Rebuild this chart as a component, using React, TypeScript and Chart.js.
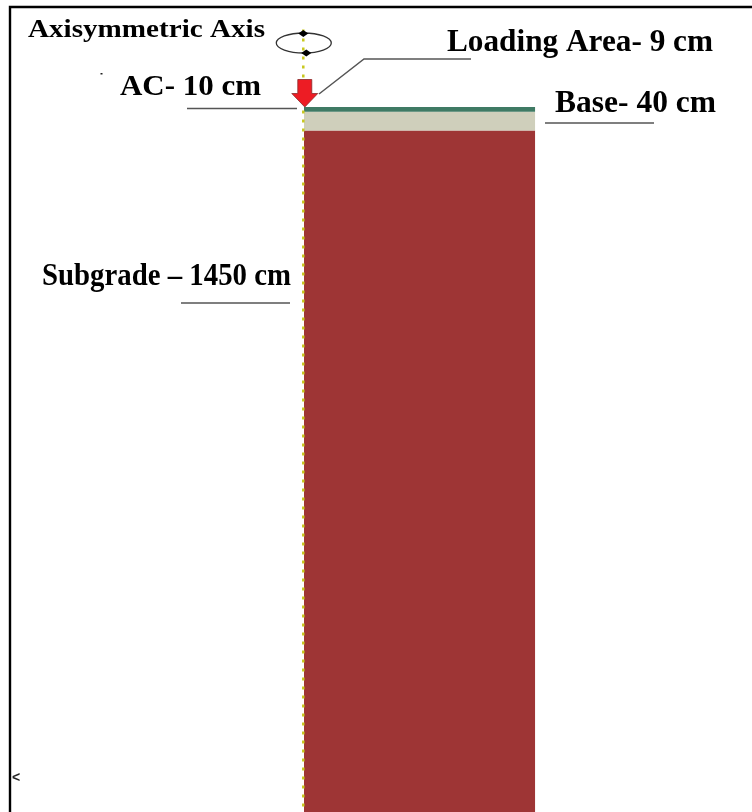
import React, { useEffect, useRef } from "react";
import { Chart, registerables } from "chart.js";

Chart.register(...registerables);

// Pavement structure (cm)
const layerNames = ["AC", "Base", "Subgrade"];
const layerThickness = [10, 40, 1450];
const layerColors = ["#3f7a64", "#cfcfbb", "#9e3535"];
const modelRadius = 492;
const axisTop = -165;
const axisRadius = -1.5;

const labels = [
  { text: "Axisymmetric Axis", x: 28, y: 37, size: 26, width: 237 },
  { text: "AC- 10 cm", x: 120, y: 95, size: 30, width: 141 },
  { text: "Loading Area- 9 cm", x: 447, y: 51, size: 31, width: 266 },
  { text: "Base- 40 cm", x: 555, y: 112, size: 31, width: 161 },
  { text: "Subgrade – 1450 cm", x: 42, y: 285, size: 32, width: 249 },
];

const leaders: number[][][] = [
  [[187, 108.5], [297, 108.5]],
  [[319, 94], [364, 59], [471, 59]],
  [[545, 123], [654, 123]],
  [[181, 303], [290, 303]],
];

const annotate = {
  id: "annotate",
  afterDatasetsDraw(chart: any) {
    const c = chart.ctx;
    const ax = chart.scales.x.getPixelForValue(axisRadius);
    c.save();
    // frame
    c.strokeStyle = "#000";
    c.lineWidth = 2.4;
    c.beginPath();
    c.moveTo(752, 7);
    c.lineTo(10, 7);
    c.lineTo(10, 812);
    c.stroke();
    // leaders
    c.strokeStyle = "#555";
    c.lineWidth = 1.5;
    leaders.forEach((l) => {
      c.beginPath();
      l.forEach((p, i) => (i ? c.lineTo(p[0], p[1]) : c.moveTo(p[0], p[1])));
      c.stroke();
    });
    // rotation symbol
    c.strokeStyle = "#333";
    c.lineWidth = 1.3;
    c.beginPath();
    c.ellipse(ax + 0.5, 43, 27.5, 10, 0, 0, Math.PI * 2);
    c.stroke();
    c.fillStyle = "#000";
    [[ax, 33.5], [ax + 3, 53]].forEach(([x, y]) => {
      c.beginPath();
      c.moveTo(x - 5, y);
      c.lineTo(x, y - 3.5);
      c.lineTo(x + 5, y);
      c.lineTo(x, y + 3.5);
      c.closePath();
      c.fill();
    });
    // load arrow
    const tip = chart.scales.y.getPixelForValue(0);
    const tx = ax + 1.5;
    c.fillStyle = "#ed1c24";
    c.strokeStyle = "#8a2a2a";
    c.lineWidth = 0.8;
    c.beginPath();
    c.moveTo(tx - 7, 79.5);
    c.lineTo(tx + 7, 79.5);
    c.lineTo(tx + 7, 93.5);
    c.lineTo(tx + 13, 93.5);
    c.lineTo(tx, tip);
    c.lineTo(tx - 13, 93.5);
    c.lineTo(tx - 7, 93.5);
    c.closePath();
    c.fill();
    c.stroke();
    // specks
    c.fillStyle = "#222";
    c.fillRect(100.5, 73, 2, 1.5);
    c.font = "bold 14px 'Liberation Sans'";
    c.fillText("<", 12, 782);
    // labels: each one stretched to the width it has in the picture
    c.fillStyle = "#000";
    c.textBaseline = "alphabetic";
    c.filter = "blur(0.35px)";
    labels.forEach((t) => {
      c.font = `bold ${t.size}px 'Liberation Serif'`;
      const k = t.width / c.measureText(t.text).width;
      c.save();
      c.translate(t.x, t.y);
      c.scale(k, 1);
      c.fillText(t.text, 0, 0);
      c.restore();
    });
    c.restore();
  },
};

export default function App() {
  const ref = useRef<HTMLCanvasElement>(null);
  useEffect(() => {
    document.body.style.margin = "0";
    let top = 0;
    const layerSets = layerNames.map((name, i) => {
      const from = top;
      top += layerThickness[i];
      return {
        label: name,
        data: [{ x: 0, y: from }, { x: modelRadius, y: from }],
        showLine: true,
        borderWidth: 0,
        pointRadius: 0,
        backgroundColor: layerColors[i],
        fill: { value: top },
      };
    });
    const chart = new Chart(ref.current!, {
      type: "scatter",
      data: {
        datasets: [
          {
            label: "Axisymmetric Axis",
            data: [{ x: axisRadius, y: axisTop }, { x: axisRadius, y: top }],
            showLine: true,
            borderColor: "#c8c81e",
            borderWidth: 2.5,
            borderDash: [3, 6],
            pointRadius: 0,
            fill: false,
          },
          ...layerSets,
        ],
      } as any,
      options: {
        animation: false,
        responsive: false,
        layout: { padding: 0 },
        plugins: { legend: { display: false }, tooltip: { enabled: false } },
        scales: {
          x: { type: "linear", display: false, min: -646.8, max: 953.2 },
          y: { type: "linear", display: false, reverse: true, min: -227.7, max: 1500 },
        },
      },
      plugins: [annotate],
    });
    return () => chart.destroy();
  }, []);
  return (
    <div style={{ position: "absolute", left: 0, top: 0, width: 752, height: 812, background: "#fff", overflow: "hidden" }}>
      <canvas ref={ref} width={752} height={812} style={{ display: "block" }} />
    </div>
  );
}
